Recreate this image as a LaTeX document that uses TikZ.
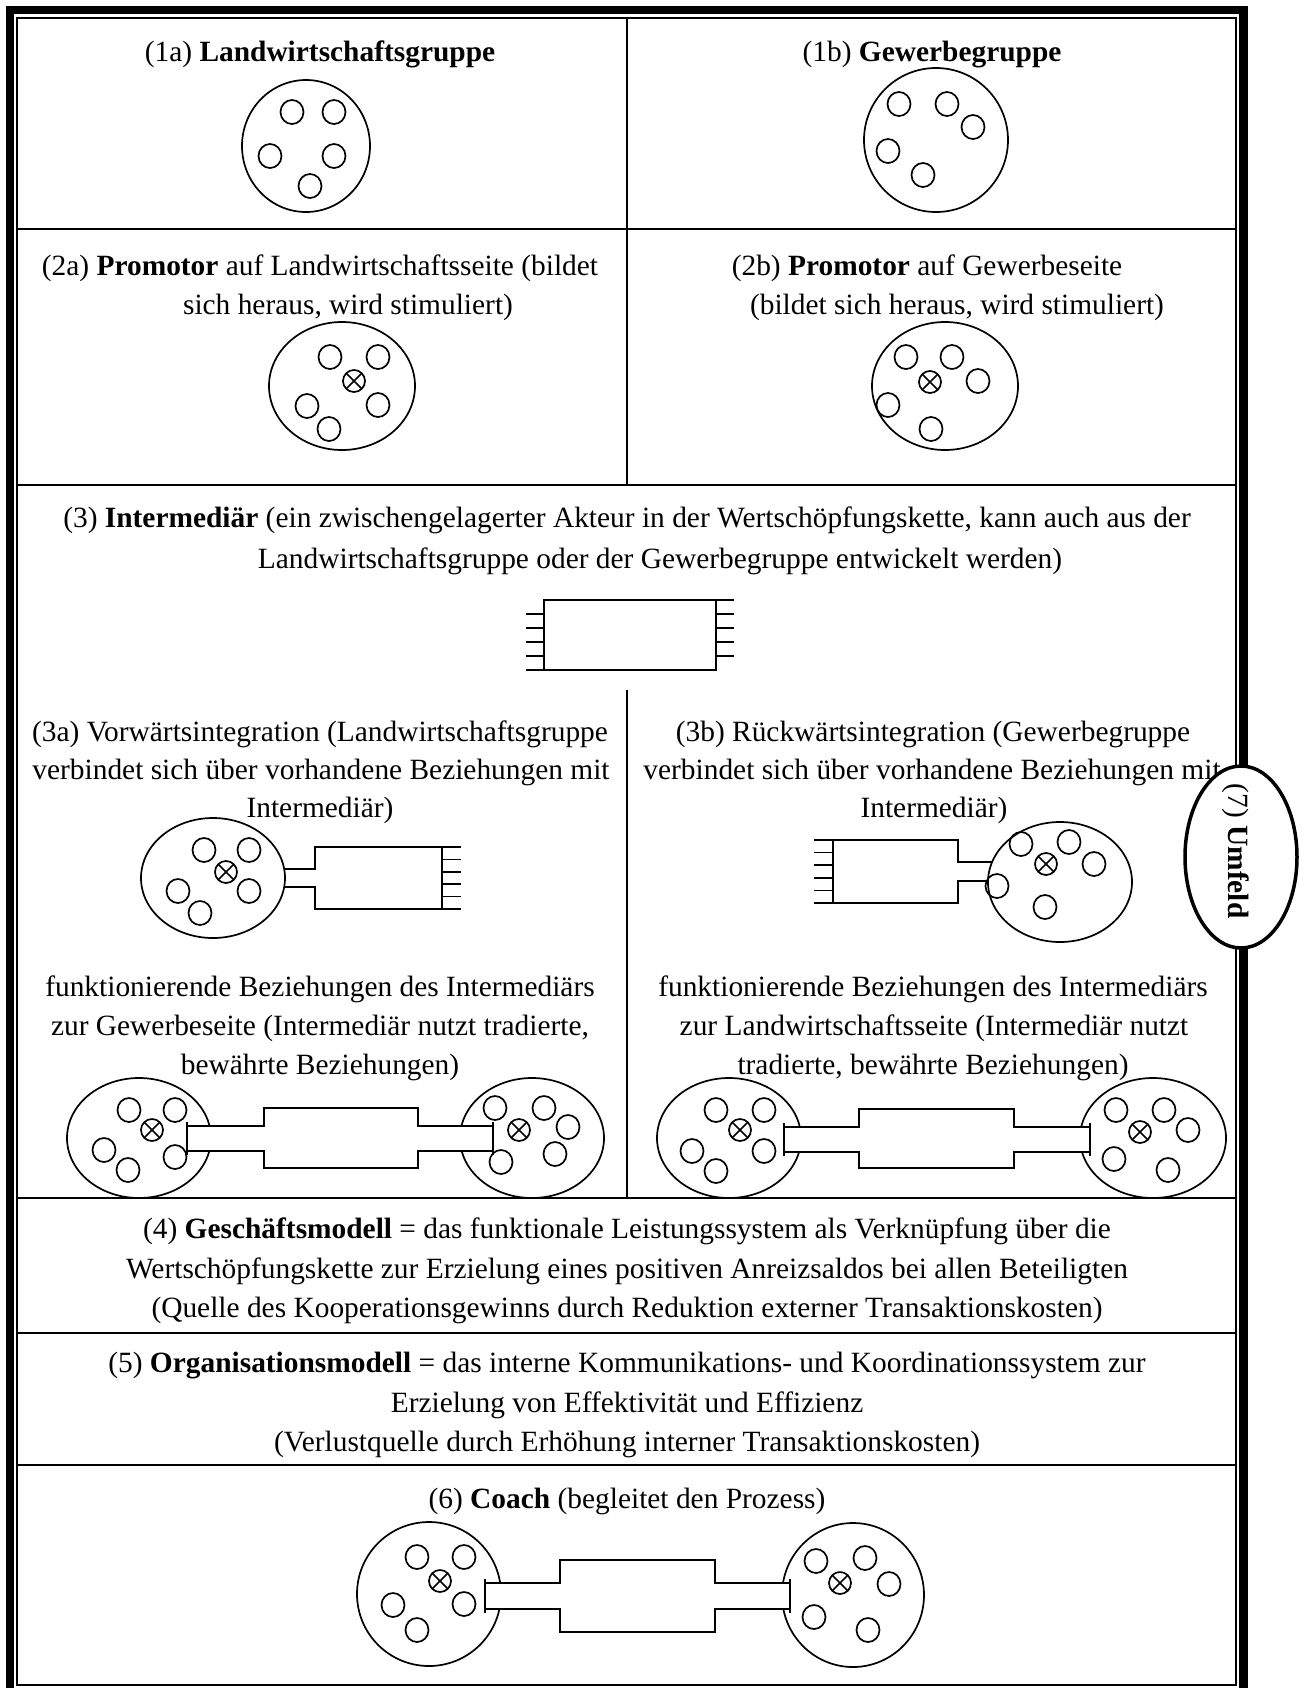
\documentclass[tikz,border=0pt]{standalone}
\usepackage{fontspec}
\setmainfont{Liberation Serif}
\newcommand{\smc}[2]{\draw[lw] (#1,#2) ellipse [x radius=11.5, y radius=12];}
\newcommand{\prm}[2]{\draw[lw] (#1,#2) circle [radius=11]; \draw[lw] (#1,#2) ++(-7.6,-7.6) -- ++(15.2,15.2); \draw[lw] (#1,#2) ++(-7.6,7.6) -- ++(15.2,-15.2);}
% tube: xL xR bx1 bx2 t1 t2 boxtop boxbottom
\newcommand{\tube}[8]{\draw[lw, fill=white] (#1,#5) -- (#3,#5) -- (#3,#7) -- (#4,#7) -- (#4,#5) -- (#2,#5) -- (#2,#6) -- (#4,#6) -- (#4,#8) -- (#3,#8) -- (#3,#6) -- (#1,#6) -- cycle;
 \draw[lw] ({#1},{#5-4}) -- ({#1},{#6+4}); \draw[lw] ({#2},{#5-4}) -- ({#2},{#6+4});}
\begin{document}
\begin{tikzpicture}[x=0.5pt,y=-0.5pt,
  lw/.style={line width=0.85pt},
  rowline/.style={line width=1.1pt},
  txt/.style={inner sep=0pt, anchor=base, font=\fontsize{14.7}{19.75}\selectfont}]
\useasboundingbox (0,0) rectangle (1304,1688);
\clip (0,0) rectangle (1304,1688);
\fill[white] (0,0) rectangle (1304,1688);
% frame
\draw[line width=4.25pt] (10,10) rectangle (1243.5,1710);
\draw[line width=1pt] (17,17.5) rectangle (1236,1684.5);
% grid
\draw[rowline] (17,229) -- (1236,229);
\draw[rowline] (17,485) -- (1236,485);
\draw[rowline] (17,1198) -- (1236,1198);
\draw[rowline] (17,1333) -- (1236,1333);
\draw[rowline] (17,1465) -- (1236,1465);
\draw[rowline] (627,17.5) -- (627,485);
\draw[rowline] (627,690) -- (627,1198);

% ---------- texts
\node[txt] (t1a) at (320,61) {(1a) \textbf{Landwirtschaftsgruppe}};
\node[txt] (t1b) at (932,61) {(1b) \textbf{Gewerbegruppe}};
\node[txt] (t2a1) at (320,275) {(2a) \textbf{Promotor} auf Landwirtschaftsseite (bildet};
\node[txt] (t2a2) at (348,314) {sich heraus, wird stimuliert)};
\node[txt] (t2b1) at (927,275) {(2b) \textbf{Promotor} auf Gewerbeseite};
\node[txt] (t2b2) at (957,314) {(bildet sich heraus, wird stimuliert)};
\node[txt] (t31) at (627,527) {(3) \textbf{Intermediär} (ein zwischengelagerter Akteur in der Wertschöpfungskette, kann auch aus der};
\node[txt] (t32) at (660,568) {Landwirtschaftsgruppe oder der Gewerbegruppe entwickelt werden)};
\node[txt] (t3a1) at (320,741) {(3a) Vorwärtsintegration (Landwirtschaftsgruppe};
\node[txt] (t3a2) at (321,779) {verbindet sich über vorhandene Beziehungen mit};
\node[txt] (t3a3) at (320,817) {Intermediär)};
\node[txt] (t3b1) at (933,741) {(3b) Rückwärtsintegration (Gewerbegruppe};
\node[txt] (t3b2) at (932,779) {verbindet sich über vorhandene Beziehungen mit};
\node[txt] (t3b3) at (934,817) {Intermediär)};
\node[txt] (tfl1) at (320,996) {funktionierende Beziehungen des Intermediärs};
\node[txt] (tfl2) at (320,1035) {zur Gewerbeseite (Intermediär nutzt tradierte,};
\node[txt] (tfl3) at (320,1074) {bewährte Beziehungen)};
\node[txt] (tfr1) at (933,996) {funktionierende Beziehungen des Intermediärs};
\node[txt] (tfr2) at (934,1035) {zur Landwirtschaftsseite (Intermediär nutzt};
\node[txt] (tfr3) at (933,1074) {tradierte, bewährte Beziehungen)};
\node[txt] (t41) at (627,1238) {(4) \textbf{Geschäftsmodell} = das funktionale Leistungssystem als Verknüpfung über die};
\node[txt] (t42) at (627,1278) {Wertschöpfungskette zur Erzielung eines positiven Anreizsaldos bei allen Beteiligten};
\node[txt] (t43) at (627,1317) {(Quelle des Kooperationsgewinns durch Reduktion externer Transaktionskosten)};
\node[txt] (t51) at (627,1372) {(5) \textbf{Organisationsmodell} = das interne Kommunikations- und Koordinationssystem zur};
\node[txt] (t52) at (627,1412) {Erzielung von Effektivität und Effizienz};
\node[txt] (t53) at (627,1451) {(Verlustquelle durch Erhöhung interner Transaktionskosten)};
\node[txt] (t6) at (627,1508) {(6) \textbf{Coach} (begleitet den Prozess)};

% ---------- (1a)
\draw[lw] (306,146) ellipse [x radius=64, y radius=66];
\smc{292}{112}\smc{334}{112}\smc{270}{156}\smc{334}{156}\smc{310}{186}
% ---------- (1b)
\draw[lw] (936,140) ellipse [x radius=72, y radius=72];
\smc{899}{104}\smc{947}{104}\smc{973}{127}\smc{888}{151}\smc{923}{175}
% ---------- (2a)
\draw[lw] (342,386) ellipse [x radius=73, y radius=64];
\smc{330}{357}\smc{378}{357}\prm{354}{381}\smc{307}{406}\smc{378}{405}\smc{329}{429}
% ---------- (2b)
\draw[lw] (945,386) ellipse [x radius=73, y radius=64];
\smc{906}{357}\smc{952}{357}\prm{930}{382}\smc{978}{381}\smc{888}{405}\smc{931}{429}

% ---------- (3) intermediary
\draw[lw] (544,600) rectangle (716,670);
\foreach \yy in {614,628,642,656,670} \draw[lw] (526,\yy) -- (544,\yy);
\foreach \yy in {600,614,628,642,656} \draw[lw] (716,\yy) -- (734,\yy);

% ---------- (3a) upper
\draw[lw] (213,878) ellipse [x radius=72, y radius=60];
\smc{204}{850}\smc{249}{850}\prm{226}{872}\smc{178}{891}\smc{249}{891}\smc{200}{913}
\draw[lw] (284.2,869) -- (315,869) -- (315,847) -- (442,847) -- (442,909) -- (315,909) -- (315,887) -- (284.2,887);
\foreach \yy in {847,859.4,871.8,884.2,896.6,909} \draw[lw] (442,\yy) -- (461,\yy);

% ---------- (3b) upper
\draw[lw] (1060,882) ellipse [x radius=72, y radius=60];
\smc{1021}{844}\smc{1069}{842}\prm{1046}{864}\smc{1094}{864}\smc{997}{886}\smc{1045}{907}
\draw[lw] (992,862) -- (958,862) -- (958,840) -- (833,840) -- (833,903) -- (958,903) -- (958,881) -- (988,881);
\foreach \yy in {840,852.6,865.2,877.8,890.4,903} \draw[lw] (814,\yy) -- (833,\yy);

% ---------- lower left chain
\draw[lw] (139,1138) ellipse [x radius=72, y radius=60];
\draw[lw] (532,1138) ellipse [x radius=72, y radius=60];
\smc{129}{1110}\smc{175}{1110}\prm{152}{1130}\smc{104}{1150}\smc{175}{1157}\smc{128}{1170}
\smc{495}{1108}\smc{544}{1108}\prm{519}{1130}\smc{568}{1127}\smc{501}{1162}\smc{555}{1154}
\tube{187}{493}{264}{418}{1126}{1151}{1108}{1168}

% ---------- lower right chain
\draw[lw] (729,1138) ellipse [x radius=72, y radius=60];
\draw[lw] (1153,1138) ellipse [x radius=73, y radius=60];
\smc{716}{1110}\smc{764}{1110}\prm{740}{1130}\smc{692}{1151}\smc{764}{1151}\smc{716}{1171}
\smc{1116}{1110}\smc{1164}{1110}\prm{1140}{1132}\smc{1188}{1130}\smc{1114}{1159}\smc{1168}{1170}
\tube{784}{1090}{859}{1014}{1127}{1152}{1109}{1168}

% ---------- coach chain
\draw[lw] (429,1594) ellipse [x radius=72, y radius=72];
\draw[lw] (853,1595) ellipse [x radius=71, y radius=72];
\smc{417}{1557}\smc{464}{1557}\prm{440}{1581}\smc{393}{1605}\smc{464}{1604}\smc{417}{1630}
\smc{816}{1561}\smc{865}{1558}\prm{840}{1583}\smc{889}{1584}\smc{814}{1617}\smc{868}{1630}
\tube{485}{790}{560}{715}{1583}{1609}{1560}{1632}

% ---------- (7) Umfeld
\draw[line width=1.75pt, fill=white] (1241,857) ellipse [x radius=56, y radius=91];
\node[txt, anchor=center, rotate=-90] (t7) at (1236,851) {(7) \textbf{Umfeld}};
\end{tikzpicture}
\end{document}
